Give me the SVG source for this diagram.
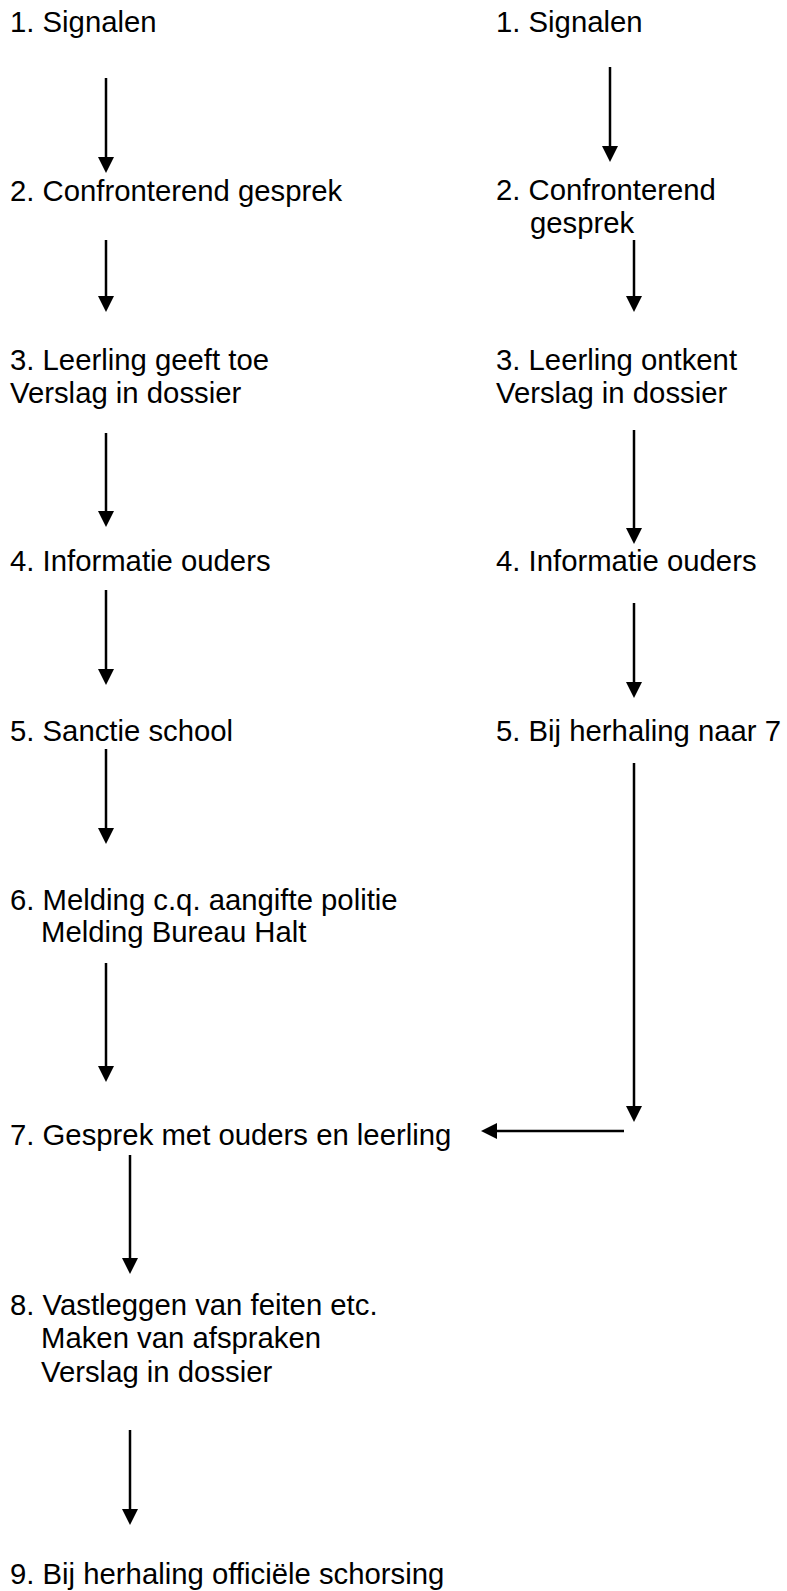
<svg xmlns="http://www.w3.org/2000/svg" width="787" height="1591" viewBox="0 0 787 1591">
<style>
  text { font-family: "Liberation Sans", Arial, sans-serif; font-size: 29.3px; fill: #000; }
  .c { stroke: #000; stroke-width: 2.5; fill: none; marker-end: url(#ah); }
</style>
<defs>
  <marker id="ah" markerUnits="userSpaceOnUse" markerWidth="18" markerHeight="18" refX="1" refY="8" orient="auto">
    <path d="M0,0 L16,8 L0,16 z" fill="#000"/>
  </marker>
</defs>
<rect width="787" height="1591" fill="#fff"/>
<g id="connectors">
  <line class="c" x1="106" y1="78" x2="106" y2="158"/>
  <line class="c" x1="106" y1="240" x2="106" y2="297"/>
  <line class="c" x1="106" y1="433" x2="106" y2="512"/>
  <line class="c" x1="106" y1="590" x2="106" y2="670"/>
  <line class="c" x1="106" y1="749" x2="106" y2="829"/>
  <line class="c" x1="106" y1="963" x2="106" y2="1067"/>
  <line class="c" x1="130" y1="1155" x2="130" y2="1259"/>
  <line class="c" x1="130" y1="1430" x2="130" y2="1510"/>
  <line class="c" x1="610" y1="67" x2="610" y2="147"/>
  <line class="c" x1="634" y1="240" x2="634" y2="297"/>
  <line class="c" x1="634" y1="430" x2="634" y2="529"/>
  <line class="c" x1="634" y1="603" x2="634" y2="683"/>
  <line class="c" x1="634" y1="763" x2="634" y2="1107"/>
  <line class="c" x1="624" y1="1131" x2="496" y2="1131"/>
</g>
<g id="n1L"><text x="10" y="32">1. Signalen</text></g>
<g id="n2L"><text x="10" y="201">2. Confronterend gesprek</text></g>
<g id="n3L"><text x="10" y="370">3. Leerling geeft toe</text><text x="10" y="403">Verslag in dossier</text></g>
<g id="n4L"><text x="10" y="571">4. Informatie ouders</text></g>
<g id="n5L"><text x="10" y="741">5. Sanctie school</text></g>
<g id="n6L"><text x="10" y="910">6. Melding c.q. aangifte politie</text><text x="41" y="942">Melding Bureau Halt</text></g>
<g id="n7"><text x="10" y="1145">7. Gesprek met ouders en leerling</text></g>
<g id="n8"><text x="10" y="1315">8. Vastleggen van feiten etc.</text><text x="41" y="1348">Maken van afspraken</text><text x="41" y="1382">Verslag in dossier</text></g>
<g id="n9"><text x="10" y="1584">9. Bij herhaling officiële schorsing</text></g>
<g id="n1R"><text x="496" y="32">1. Signalen</text></g>
<g id="n2R"><text x="496" y="200">2. Confronterend</text><text x="530" y="233">gesprek</text></g>
<g id="n3R"><text x="496" y="370">3. Leerling ontkent</text><text x="496" y="403">Verslag in dossier</text></g>
<g id="n4R"><text x="496" y="571">4. Informatie ouders</text></g>
<g id="n5R"><text x="496" y="741">5. Bij herhaling naar 7</text></g>
</svg>
